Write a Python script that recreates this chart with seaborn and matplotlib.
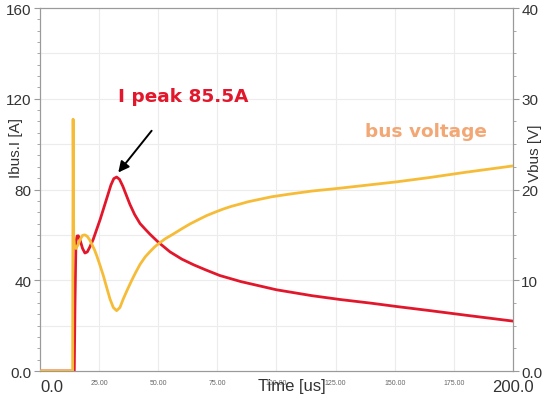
import numpy as np
import pandas as pd
import matplotlib
matplotlib.use("Agg")
import matplotlib.pyplot as plt
from matplotlib.ticker import MultipleLocator
import seaborn as sns

# Bus current waveform (left axis, A)
t_current = [0, 14.5, 14.8, 15.2, 15.7, 16.2, 17.0, 18.0, 19.0, 20.0, 21.0, 22.5,
             24.0, 25.5, 27.0, 28.5, 30.0, 31.2, 32.4, 33.6, 35.0, 36.5, 38.0,
             40.0, 42.3, 44.5, 46.5, 48.5, 50.0, 55.0, 60.0, 65.0, 70.0, 76.0,
             85.0, 100.0, 115.0, 127.0, 140.0, 151.0, 165.0, 180.0, 200.0]
i_current = [0, 0, 30, 57, 59.5, 59.6, 57.5, 54, 52, 52.5, 54.5, 58,
             62.5, 67, 72, 77, 82, 84.8, 85.5, 84.5, 81.5, 77.5, 73.5,
             69, 65, 62.5, 60.3, 58.3, 56.8, 52.5, 49.3, 46.8, 44.6, 42.1,
             39.4, 35.8, 33.2, 31.5, 29.9, 28.4, 26.6, 24.6, 22]

# Bus voltage waveform (right axis, V)
t_voltage = [0, 13.8, 14.0, 14.25, 14.6, 15.2, 16.0, 17.0, 18.0, 19.0, 20.0, 21.0,
             22.0, 23.0, 24.0, 25.4, 26.8, 28.2, 29.6, 31.0, 32.4, 33.8, 35.2,
             36.8, 38.8, 40.5, 42.3, 44.5, 46.5, 48.5, 50.0, 53.0, 56.4, 60.0,
             63.4, 67.0, 70.5, 74.0, 77.5, 81.0, 84.6, 88.0, 91.6, 98.0, 105.7,
             115.0, 127.0, 140.0, 151.0, 165.0, 180.0, 200.0]
v_voltage = [0, 0, 27.75, 15.0, 13.75, 13.5, 13.88, 14.5, 14.95, 15.0, 14.83, 14.45,
             13.93, 13.38, 12.7, 11.63, 10.5, 9.2, 7.93, 7.0, 6.65, 7.0, 7.93,
             8.88, 10.0, 10.88, 11.75, 12.58, 13.15, 13.68, 14.0, 14.58, 15.1, 15.68,
             16.2, 16.68, 17.13, 17.5, 17.85, 18.15, 18.4, 18.65, 18.85, 19.2, 19.5,
             19.83, 20.15, 20.53, 20.85, 21.33, 21.9, 22.6]

x_ticks = [0, 25, 50, 75, 100, 125, 150, 175, 200]
x_tick_labels = ["0.0", "25.00", "50.00", "75.00", "100.00", "125.00",
                 "150.00", "175.00", "200.0"]
left_ticks = [0, 40, 80, 120, 160]
left_tick_labels = ["0.0", "40", "80", "120", "160"]
right_ticks = [0, 10, 20, 30, 40]
right_tick_labels = ["0.0", "10", "20", "30", "40"]

peak_time = 32.4
peak_current = 85.5

current_df = pd.DataFrame({"t": t_current, "I": i_current})
voltage_df = pd.DataFrame({"t": t_voltage, "V": v_voltage})

RED = "#E2172B"
GOLD = "#F6BC38"
TEXT = "#333333"
SPINE = "#9a9a9a"

sns.set_style("white")
plt.rcParams["font.family"] = ["Liberation Sans", "DejaVu Sans"]

fig = plt.figure(figsize=(5.45, 4.02), dpi=100)
ax = fig.add_axes([0.0734, 0.0746, 0.8678, 0.903])
ax2 = ax.twinx()

sns.lineplot(data=current_df, x="t", y="I", ax=ax, color=RED, lw=2.0, zorder=3)
sns.lineplot(data=voltage_df, x="t", y="V", ax=ax2, color=GOLD, lw=2.0, zorder=4)

ax.set_xlim(0, 200)
ax.set_ylim(0, 160)
ax2.set_ylim(0, 40)

# ticks and light grid
ax.set_xticks(x_ticks)
ax.set_yticks(left_ticks)
ax.yaxis.set_minor_locator(MultipleLocator(5))
ax.xaxis.set_minor_locator(MultipleLocator(5))
ax2.set_yticks(right_ticks)
ax2.yaxis.set_minor_locator(MultipleLocator(2.5))
for v in np.arange(20, 160, 20):
    ax.axhline(v, color="#ececec", lw=0.8, zorder=0)
for v in x_ticks[1:-1]:
    ax.axvline(v, color="#ececec", lw=0.8, zorder=0)

ax.set_xticklabels(x_tick_labels)
ax.set_yticklabels(left_tick_labels)
ax2.set_yticklabels(right_tick_labels)

for lbl in ax.get_xticklabels():
    lbl.set_fontsize(5)
    lbl.set_color("#666666")
xl = ax.get_xticklabels()
xl[0].set_fontsize(12); xl[0].set_color(TEXT); xl[0].set_ha("left")
xl[-1].set_fontsize(12); xl[-1].set_color(TEXT)

ax.tick_params(axis="x", which="major", direction="out", length=4, color=SPINE, pad=1.5)
ax.tick_params(axis="x", which="minor", direction="out", length=2, color=SPINE)
ax.tick_params(axis="y", which="major", direction="out", length=4, color=SPINE,
               labelsize=11, labelcolor=TEXT, pad=2)
ax.tick_params(axis="y", which="minor", direction="out", length=2, color=SPINE)
ax2.tick_params(axis="y", which="major", direction="out", length=4, color=SPINE,
                labelsize=11, labelcolor=TEXT, pad=2)
ax2.tick_params(axis="y", which="minor", direction="out", length=2, color=SPINE)

ax.set_xlabel("Time [us]", fontsize=12, color=TEXT)
ax.xaxis.set_label_coords(0.533, -0.02)
ax.set_ylabel("Ibus.I [A]", fontsize=11, color=TEXT)
ax.yaxis.set_label_coords(-0.036, 0.617)
ax2.set_ylabel("Vbus [V]", fontsize=11, color=TEXT)
ax2.yaxis.set_label_coords(1.032, 0.603)

for a in (ax, ax2):
    for s in a.spines.values():
        s.set_color(SPINE)
        s.set_linewidth(0.8)

# annotations
ax2.text(33, 121.2 / 4, f"I peak {peak_current}A", color=RED, fontsize=13.3,
         fontweight="bold", ha="left", va="center",
         family=["DejaVu Sans"])
ax2.text(137.4, 26.5, "bus voltage", color="#F2A774", fontsize=13.3,
         fontweight="bold", ha="left", va="center",
         family=["DejaVu Sans"])
ax.annotate("", xy=(33.1, 87.5), xytext=(47.2, 105.9),
            arrowprops=dict(arrowstyle="-|>", color="black", lw=1.4,
                            mutation_scale=16, shrinkA=0, shrinkB=0))

fig.savefig("out.png", dpi=100)
